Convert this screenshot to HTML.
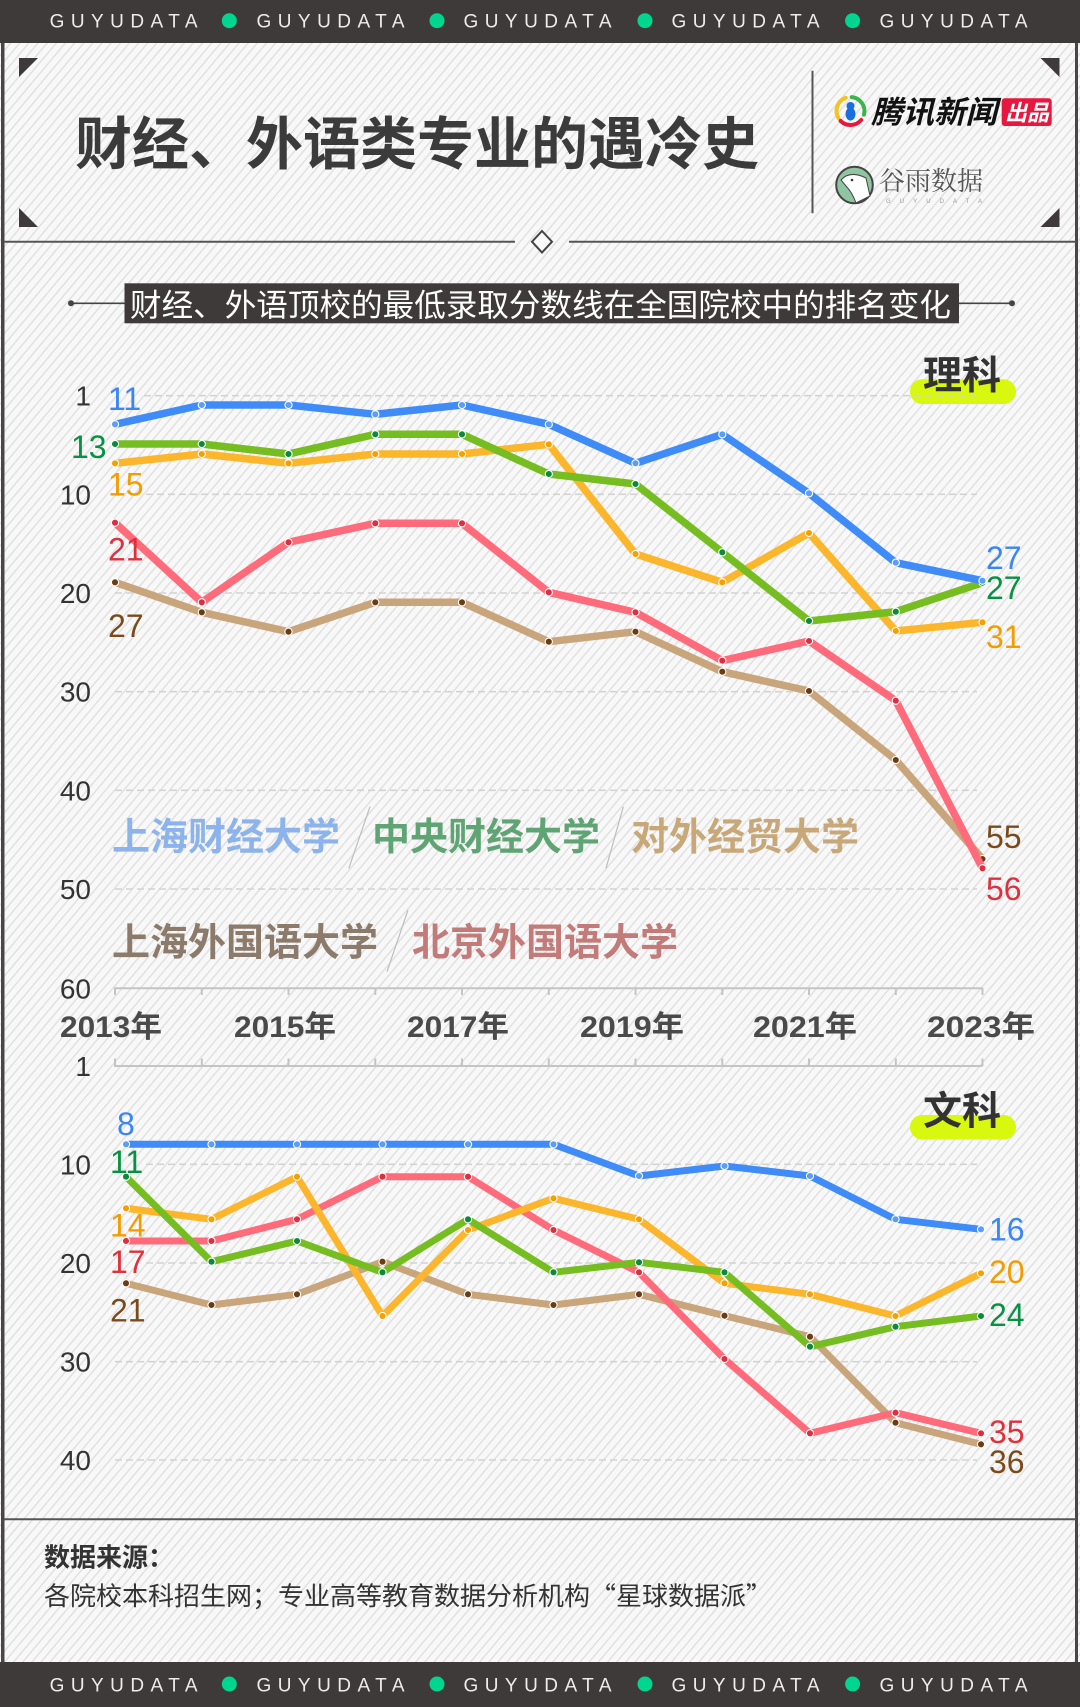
<!DOCTYPE html>
<html><head><meta charset="utf-8"><style>
html,body{margin:0;padding:0;background:#f7f7f7;}
svg{display:block;}
text{font-family:"Liberation Sans","Noto Sans CJK SC",sans-serif;}
</style></head><body>
<svg width="1080" height="1707" viewBox="0 0 1080 1707" xmlns="http://www.w3.org/2000/svg">
<defs>
<pattern id="hatch" width="7" height="10" patternUnits="userSpaceOnUse" patternTransform="rotate(40)">
<rect width="7" height="10" fill="#f8f8f8"/>
<rect x="0" width="1.5" height="10" fill="#e1e1e1"/>
</pattern>
<marker id="mb" markerWidth="10" markerHeight="10" refX="5" refY="5" markerUnits="userSpaceOnUse"><circle cx="5" cy="5" r="3.6" fill="#5c9df8" stroke="#fff" stroke-width="1.1"/></marker>
<marker id="mg" markerWidth="10" markerHeight="10" refX="5" refY="5" markerUnits="userSpaceOnUse"><circle cx="5" cy="5" r="3.6" fill="#0a8a3c" stroke="#fff" stroke-width="1.1"/></marker>
<marker id="mo" markerWidth="10" markerHeight="10" refX="5" refY="5" markerUnits="userSpaceOnUse"><circle cx="5" cy="5" r="3.6" fill="#f5a000" stroke="#fff" stroke-width="1.1"/></marker>
<marker id="mr" markerWidth="10" markerHeight="10" refX="5" refY="5" markerUnits="userSpaceOnUse"><circle cx="5" cy="5" r="3.6" fill="#dc2f3f" stroke="#fff" stroke-width="1.1"/></marker>
<marker id="mt" markerWidth="10" markerHeight="10" refX="5" refY="5" markerUnits="userSpaceOnUse"><circle cx="5" cy="5" r="3.6" fill="#6b3c12" stroke="#fff" stroke-width="1.1"/></marker>
</defs>

<rect x="0" y="0" width="1080" height="1707" fill="#f8f8f8"/>
<rect x="0" y="43" width="1080" height="1619" fill="url(#hatch)"/>

<rect x="0" y="0" width="1080" height="43" fill="#3e3a39"/>
<g fill="#ececec" font-size="19">
<text x="49.6" y="27.3" textLength="148" lengthAdjust="spacing">GUYUDATA</text>
<text x="256.5" y="27.3" textLength="148" lengthAdjust="spacing">GUYUDATA</text>
<text x="463.5" y="27.3" textLength="148" lengthAdjust="spacing">GUYUDATA</text>
<text x="671.5" y="27.3" textLength="148" lengthAdjust="spacing">GUYUDATA</text>
<text x="879.5" y="27.3" textLength="148" lengthAdjust="spacing">GUYUDATA</text>
</g>
<g fill="#00d68f">
<ellipse cx="229.3" cy="20.7" rx="7.5" ry="7.5"/>
<ellipse cx="437" cy="20.7" rx="7.5" ry="7.5"/>
<ellipse cx="645" cy="20.7" rx="7.5" ry="7.5"/>
<ellipse cx="852.6" cy="20.7" rx="7.5" ry="7.5"/>
</g>

<rect x="0" y="1662" width="1080" height="45" fill="#3e3a39"/>
<g fill="#ececec" font-size="19">
<text x="49.6" y="1691.7" textLength="148" lengthAdjust="spacing">GUYUDATA</text>
<text x="256.5" y="1691.7" textLength="148" lengthAdjust="spacing">GUYUDATA</text>
<text x="463.5" y="1691.7" textLength="148" lengthAdjust="spacing">GUYUDATA</text>
<text x="671.5" y="1691.7" textLength="148" lengthAdjust="spacing">GUYUDATA</text>
<text x="879.5" y="1691.7" textLength="148" lengthAdjust="spacing">GUYUDATA</text>
</g>
<g fill="#00d68f">
<ellipse cx="229.3" cy="1684" rx="7.5" ry="7.5"/>
<ellipse cx="437" cy="1684" rx="7.5" ry="7.5"/>
<ellipse cx="645" cy="1684" rx="7.5" ry="7.5"/>
<ellipse cx="852.6" cy="1684" rx="7.5" ry="7.5"/>
</g>

<rect x="1" y="43" width="3.5" height="1619" fill="#4a4646"/>
<rect x="1075" y="43" width="3" height="1619" fill="#4a4646"/>
<line x1="4" y1="241.7" x2="515" y2="241.7" stroke="#555" stroke-width="2"/>
<line x1="569" y1="241.7" x2="1076" y2="241.7" stroke="#555" stroke-width="2"/>
<polygon points="542,231 552,241.7 542,252.5 532,241.7" fill="#fafafa" stroke="#444" stroke-width="2"/>
<line x1="4" y1="1519.3" x2="1076" y2="1519.3" stroke="#555" stroke-width="2"/>

<polygon points="19,58 38,58 19,77" fill="#3e3a39"/>
<polygon points="1040.5,58 1059.5,58 1059.5,77" fill="#3e3a39"/>
<polygon points="19,208 19,227 38,227" fill="#3e3a39"/>
<polygon points="1059.5,208 1059.5,227 1040.5,227" fill="#3e3a39"/>

<text x="75" y="164" font-size="57" font-weight="bold" fill="#3b3b3b" textLength="684" lengthAdjust="spacingAndGlyphs">财经、外语类专业的遇冷史</text>

<line x1="812.5" y1="70.7" x2="812.5" y2="213.3" stroke="#555" stroke-width="2"/>

<g fill="none" stroke-width="4" stroke-linecap="round">
<path d="M838.4,118 A14,14 0 0 1 845.7,97.8" stroke="#f8c21c"/>
<path d="M851.7,97.1 A14,14 0 0 1 864,114.6" stroke="#3bb54a"/>
<path d="M861.2,120 A14,14 0 0 1 840.6,120.9" stroke="#e8173d"/>
</g>
<ellipse cx="850.5" cy="114" rx="5" ry="6.5" fill="#1a6fe0"/>
<circle cx="850.5" cy="106" r="4" fill="#1a6fe0"/>
<text x="871" y="123" font-size="31" font-weight="bold" font-style="italic" fill="#111" textLength="126" lengthAdjust="spacingAndGlyphs">腾讯新闻</text>
<rect x="1001.7" y="98.3" width="50" height="27.7" rx="3" fill="#e8173d"/>
<text x="1005" y="120.5" font-size="22" font-weight="bold" font-style="italic" fill="#fff" textLength="44" lengthAdjust="spacingAndGlyphs">出品</text>

<circle cx="854.5" cy="185" r="18.3" fill="#8fc5a1" stroke="#444" stroke-width="2"/>
<path d="M841,180 Q850,170 866,178 L870,196 Q862,200 856,203 Q852,192 846,186 Z" fill="#fff" stroke="#444" stroke-width="1"/>
<circle cx="852" cy="180" r="1.3" fill="#333"/>
<text x="879" y="190" font-size="26" fill="#555" style="font-family:'Liberation Serif','Noto Serif CJK SC',serif" textLength="104" lengthAdjust="spacingAndGlyphs">谷雨数据</text>
<text x="886" y="203" font-size="6" fill="#999" textLength="96" lengthAdjust="spacing">GUYUDATA</text>

<line x1="71" y1="303.3" x2="125" y2="303.3" stroke="#444" stroke-width="1.6"/>
<line x1="958" y1="303.3" x2="1012" y2="303.3" stroke="#444" stroke-width="1.6"/>
<circle cx="71" cy="303.3" r="3" fill="#444"/>
<circle cx="1012" cy="303.3" r="3" fill="#444"/>
<rect x="124.5" y="283.3" width="834.5" height="40" fill="#3e3a39"/>
<text x="130" y="316" font-size="31.5" fill="#fff" textLength="821" lengthAdjust="spacingAndGlyphs">财经、外语顶校的最低录取分数线在全国院校中的排名变化</text>

<!-- TOP CHART -->
<rect x="910" y="379.3" width="106" height="24.7" rx="12.3" fill="#d8f80f"/>
<g stroke="#d3d3d3" stroke-width="1.6" stroke-dasharray="7 4">
<line x1="144" y1="395.7" x2="977" y2="395.7"/>
<line x1="146" y1="494.3" x2="977" y2="494.3"/>
<line x1="115" y1="593" x2="977" y2="593"/>
<line x1="115" y1="691.7" x2="977" y2="691.7"/>
<line x1="115" y1="790.3" x2="977" y2="790.3"/>
<line x1="115" y1="889" x2="977" y2="889"/>
</g>
<text x="923" y="389" font-size="39" font-weight="bold" fill="#333" textLength="78" lengthAdjust="spacingAndGlyphs">理科</text>

<line x1="114" y1="988.3" x2="982.5" y2="988.3" stroke="#c4c4c4" stroke-width="2"/>
<g stroke="#c4c4c4" stroke-width="2">
<line x1="115" y1="988" x2="115" y2="995"/>
<line x1="201.8" y1="988" x2="201.8" y2="995"/>
<line x1="288.5" y1="988" x2="288.5" y2="995"/>
<line x1="375.3" y1="988" x2="375.3" y2="995"/>
<line x1="462" y1="988" x2="462" y2="995"/>
<line x1="548.8" y1="988" x2="548.8" y2="995"/>
<line x1="635.5" y1="988" x2="635.5" y2="995"/>
<line x1="722.3" y1="988" x2="722.3" y2="995"/>
<line x1="809" y1="988" x2="809" y2="995"/>
<line x1="895.8" y1="988" x2="895.8" y2="995"/>
<line x1="982.5" y1="988" x2="982.5" y2="995"/>
</g>

<g font-size="28" fill="#333" text-anchor="end">
<text x="91" y="405.7">1</text>
<text x="91" y="504.3">10</text>
<text x="91" y="603">20</text>
<text x="91" y="701.7">30</text>
<text x="91" y="800.3">40</text>
<text x="91" y="899">50</text>
<text x="91" y="998.3">60</text>
</g>

<g font-size="30" font-weight="bold" fill="#4a4a4a" text-anchor="middle">
<text x="111" y="1037" textLength="102" lengthAdjust="spacingAndGlyphs">2013年</text>
<text x="285" y="1037" textLength="102" lengthAdjust="spacingAndGlyphs">2015年</text>
<text x="458" y="1037" textLength="102" lengthAdjust="spacingAndGlyphs">2017年</text>
<text x="632" y="1037" textLength="104" lengthAdjust="spacingAndGlyphs">2019年</text>
<text x="805" y="1037" textLength="104" lengthAdjust="spacingAndGlyphs">2021年</text>
<text x="981" y="1037" textLength="108" lengthAdjust="spacingAndGlyphs">2023年</text>
</g>

<g font-size="38" font-weight="bold">
<text x="112" y="850" fill="#8cb3ec" textLength="228" lengthAdjust="spacingAndGlyphs">上海财经大学</text>
<text x="372" y="850" fill="#5fa574" textLength="228" lengthAdjust="spacingAndGlyphs">中央财经大学</text>
<text x="631" y="850" fill="#c8a878" textLength="228" lengthAdjust="spacingAndGlyphs">对外经贸大学</text>
<text x="112" y="955.6" fill="#8c7a6a" textLength="266" lengthAdjust="spacingAndGlyphs">上海外国语大学</text>
<text x="412" y="955.6" fill="#c27b78" textLength="266" lengthAdjust="spacingAndGlyphs">北京外国语大学</text>
</g>
<g stroke="#bdbdbd" stroke-width="1.2">
<line x1="370" y1="806.7" x2="348.8" y2="868.3"/>
<line x1="623.3" y1="806.7" x2="606" y2="868.3"/>
<line x1="408" y1="910" x2="387" y2="971.7"/>
</g>

<g fill="none" stroke-width="7.5" stroke-linejoin="round" stroke-linecap="round">
<polyline stroke="#c9a57c" marker-start="url(#mt)" marker-mid="url(#mt)" marker-end="url(#mt)" points="115,582.3 201.8,612.3 288.5,631.7 375.3,602.3 462,602.3 548.8,641.7 635.5,631.7 722.3,671.7 809,691 895.8,760 982.5,859"/>
<polyline stroke="#ff6b7b" marker-start="url(#mr)" marker-mid="url(#mr)" marker-end="url(#mr)" points="115,522.7 201.8,602.3 288.5,542.3 375.3,523.3 462,523.3 548.8,592.3 635.5,612.3 722.3,660.7 809,641 895.8,700.7 982.5,868.3"/>
<polyline stroke="#fbb62c" marker-start="url(#mo)" marker-mid="url(#mo)" marker-end="url(#mo)" points="115,463.3 201.8,454 288.5,463.3 375.3,454 462,454 548.8,444.3 635.5,554 722.3,582.3 809,533 895.8,631 982.5,622.3"/>
<polyline stroke="#76bd22" marker-start="url(#mg)" marker-mid="url(#mg)" marker-end="url(#mg)" points="115,444 201.8,444 288.5,454 375.3,434.3 462,434.3 548.8,474 635.5,484 722.3,552.3 809,621 895.8,611.7 982.5,582.7"/>
<polyline stroke="#3f8cf8" marker-start="url(#mb)" marker-mid="url(#mb)" marker-end="url(#mb)" points="115,424.3 201.8,405 288.5,405 375.3,414.3 462,405 548.8,424.3 635.5,463.3 722.3,434.3 809,493.3 895.8,562.7 982.5,580.7"/>
</g>

<g font-size="32">
<text x="108" y="410" fill="#3a86f5">11</text>
<text x="71" y="458" fill="#079142">13</text>
<text x="108" y="495.7" fill="#f39c00">15</text>
<text x="108" y="560.7" fill="#e0303c">21</text>
<text x="108" y="637" fill="#7b4a1c">27</text>
<text x="986" y="569" fill="#3a86f5">27</text>
<text x="986" y="599" fill="#079142">27</text>
<text x="986" y="648" fill="#f39c00">31</text>
<text x="986" y="848" fill="#7b4a1c">55</text>
<text x="986" y="900" fill="#e0303c">56</text>
</g>

<!-- BOTTOM CHART -->
<rect x="910" y="1115" width="106" height="24.5" rx="12.2" fill="#d8f80f"/>
<g stroke="#d3d3d3" stroke-width="1.6" stroke-dasharray="7 4">
<line x1="146" y1="1164.3" x2="977" y2="1164.3"/>
<line x1="146" y1="1263" x2="977" y2="1263"/>
<line x1="115" y1="1361.7" x2="977" y2="1361.7"/>
<line x1="115" y1="1460" x2="977" y2="1460"/>
</g>
<text x="923" y="1124.3" font-size="39" font-weight="bold" fill="#333" textLength="78" lengthAdjust="spacingAndGlyphs">文科</text>

<line x1="114" y1="1066" x2="982.5" y2="1066" stroke="#c4c4c4" stroke-width="2"/>
<g stroke="#c4c4c4" stroke-width="2">
<line x1="115" y1="1058.5" x2="115" y2="1066"/>
<line x1="201.8" y1="1058.5" x2="201.8" y2="1066"/>
<line x1="288.5" y1="1058.5" x2="288.5" y2="1066"/>
<line x1="375.3" y1="1058.5" x2="375.3" y2="1066"/>
<line x1="462" y1="1058.5" x2="462" y2="1066"/>
<line x1="548.8" y1="1058.5" x2="548.8" y2="1066"/>
<line x1="635.5" y1="1058.5" x2="635.5" y2="1066"/>
<line x1="722.3" y1="1058.5" x2="722.3" y2="1066"/>
<line x1="809" y1="1058.5" x2="809" y2="1066"/>
<line x1="895.8" y1="1058.5" x2="895.8" y2="1066"/>
<line x1="982.5" y1="1058.5" x2="982.5" y2="1066"/>
</g>

<g font-size="28" fill="#333" text-anchor="end">
<text x="91" y="1076">1</text>
<text x="91" y="1174.3">10</text>
<text x="91" y="1273">20</text>
<text x="91" y="1371.7">30</text>
<text x="91" y="1470">40</text>
</g>

<g fill="none" stroke-width="7" stroke-linejoin="round" stroke-linecap="round">
<polyline stroke="#c9a57c" marker-start="url(#mt)" marker-mid="url(#mt)" marker-end="url(#mt)" points="126,1283.3 211.5,1305 297,1294.3 382.5,1261.7 468,1294.3 553.5,1305 639,1294.3 724.5,1315.7 810,1336.7 895.5,1422.7 981,1444.3"/>
<polyline stroke="#ff6b7b" marker-start="url(#mr)" marker-mid="url(#mr)" marker-end="url(#mr)" points="126,1241 211.5,1241 297,1219.3 382.5,1176.7 468,1176.7 553.5,1230 639,1272.3 724.5,1359 810,1433.3 895.5,1412.7 981,1433.3"/>
<polyline stroke="#fbb62c" marker-start="url(#mo)" marker-mid="url(#mo)" marker-end="url(#mo)" points="126,1208.3 211.5,1219.3 297,1176.7 382.5,1316 468,1230 553.5,1198.3 639,1219.3 724.5,1283.3 810,1294.3 895.5,1316 981,1273.3"/>
<polyline stroke="#76bd22" marker-start="url(#mg)" marker-mid="url(#mg)" marker-end="url(#mg)" points="126,1176.7 211.5,1261.7 297,1241 382.5,1272.3 468,1219.3 553.5,1272.3 639,1262.3 724.5,1272.3 810,1346.7 895.5,1326.7 981,1316"/>
<polyline stroke="#3f8cf8" marker-start="url(#mb)" marker-mid="url(#mb)" marker-end="url(#mb)" points="126,1144.3 211.5,1144.3 297,1144.3 382.5,1144.3 468,1144.3 553.5,1144.3 639,1176 724.5,1166 810,1176 895.5,1219.3 981,1229.3"/>
</g>

<g font-size="32">
<text x="117" y="1135" fill="#3a86f5">8</text>
<text x="110" y="1173" fill="#079142">11</text>
<text x="110" y="1236.5" fill="#f39c00">14</text>
<text x="110" y="1273" fill="#e0303c">17</text>
<text x="110" y="1321.5" fill="#7b4a1c">21</text>
<text x="989" y="1240.5" fill="#3a86f5">16</text>
<text x="989" y="1283" fill="#f39c00">20</text>
<text x="989" y="1326" fill="#079142">24</text>
<text x="989" y="1443" fill="#e0303c">35</text>
<text x="989" y="1473" fill="#7b4a1c">36</text>
</g>

<text x="44" y="1566.5" font-size="26" font-weight="bold" fill="#333" textLength="130" lengthAdjust="spacingAndGlyphs">数据来源：</text>
<text x="44" y="1605" font-size="25.5" fill="#333" style="font-family:'Noto Sans CJK SC','Liberation Sans',sans-serif" textLength="728" lengthAdjust="spacingAndGlyphs">各院校本科招生网；专业高等教育数据分析机构“星球数据派”</text>
</svg>
</body></html>
